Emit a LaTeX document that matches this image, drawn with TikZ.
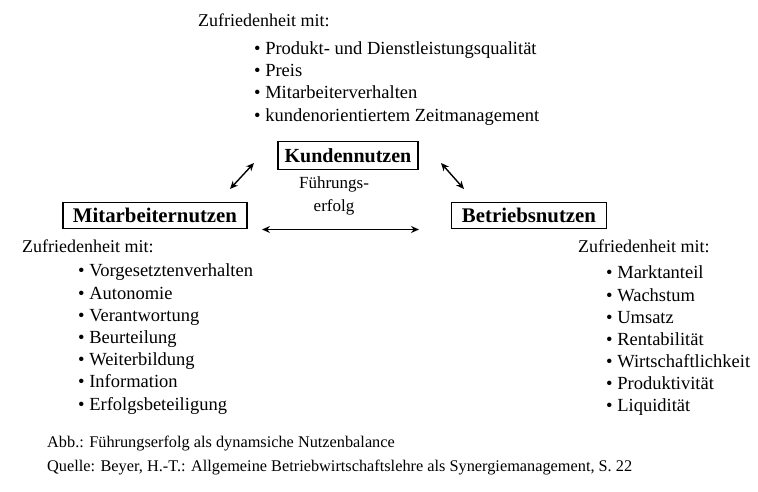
\documentclass[tikz,border=0pt]{standalone}
\usepackage{fontspec}
\setmainfont{Liberation Serif}
\usetikzlibrary{arrows.meta}
\begin{document}
\begin{tikzpicture}[x=1pt,y=-1pt,
  head/.style={anchor=base west,inner sep=0pt,font=\fontsize{18}{21}\selectfont},
  txt/.style={anchor=base west,inner sep=0pt,font=\fontsize{18.5}{21}\selectfont},
  captxt/.style={anchor=base west,inner sep=0pt,font=\fontsize{16.3}{19}\selectfont},
  box/.style={draw,line width=1.6pt,inner sep=0pt,font=\fontsize{20}{23}\selectfont\bfseries},
  arr/.style={{Stealth[length=8pt,width=7pt]}-{Stealth[length=8pt,width=7pt]},line width=1.4pt}]
\useasboundingbox (0,0) rectangle (758,492);
% top list
\node[head] (tz) at (198,27) {Zufriedenheit mit:};
\node[txt] (t1) at (254,55) {\textbullet\ Produkt- und Dienstleistungsqualität};
\node[txt] (t2) at (254,77) {\textbullet\ Preis};
\node[txt] (t3) at (254,99) {\textbullet\ Mitarbeiterverhalten};
\node[txt] (t4) at (254,122) {\textbullet\ kundenorientiertem Zeitmanagement};
% boxes
\node[box,minimum width=140pt,minimum height=28pt] (K) at (348,155.5) {Kundennutzen};
\node[box,minimum width=184pt,minimum height=26pt,font=\fontsize{20.8}{23}\selectfont\bfseries] (M) at (155,215.5) {Mitarbeiternutzen};
\node[box,minimum width=155pt,minimum height=26pt,font=\fontsize{20.8}{23}\selectfont\bfseries] (B) at (529,215.5) {Betriebsnutzen};
\node[align=center,inner sep=0pt,font=\fontsize{17}{23}\selectfont] (F) at (334,196) {Führungs-\\erfolg};
% arrows
\coordinate (a1) at (230,189);
\coordinate (a2) at (254,163);
\coordinate (b1) at (441,163);
\coordinate (b2) at (464,189);
\coordinate (c1) at (262,229.5);
\coordinate (c2) at (419,229.5);
\draw[arr] (a1) -- (a2);
\draw[arr] (b1) -- (b2);
\draw[arr] (c1) -- (c2);
% left list
\node[head] (lz) at (22,252) {Zufriedenheit mit:};
\node[txt] (l1) at (78,276) {\textbullet\ Vorgesetztenverhalten};
\node[txt] (l2) at (78,299) {\textbullet\ Autonomie};
\node[txt] (l3) at (78,321) {\textbullet\ Verantwortung};
\node[txt] (l4) at (78,343) {\textbullet\ Beurteilung};
\node[txt] (l5) at (78,365) {\textbullet\ Weiterbildung};
\node[txt] (l6) at (78,387) {\textbullet\ Information};
\node[txt] (l7) at (78,410) {\textbullet\ Erfolgsbeteiligung};
% right list
\node[head] (rz) at (578,252) {Zufriedenheit mit:};
\node[txt] (r1) at (606,278) {\textbullet\ Marktanteil};
\node[txt] (r2) at (606,301) {\textbullet\ Wachstum};
\node[txt] (r3) at (606,323) {\textbullet\ Umsatz};
\node[txt] (r4) at (606,345) {\textbullet\ Rentabilität};
\node[txt] (r5) at (606,367) {\textbullet\ Wirtschaftlichkeit};
\node[txt] (r6) at (606,389) {\textbullet\ Produktivität};
\node[txt] (r7) at (606,411) {\textbullet\ Liquidität};
% caption
\node[captxt] (c1t) at (47,447) {Abb.: Führungserfolg als dynamsiche Nutzenbalance};
\node[captxt] (c2t) at (47,471) {Quelle: Beyer, H.-T.: Allgemeine Betriebwirtschaftslehre als Synergiemanagement, S. 22};
\end{tikzpicture}
\end{document}
